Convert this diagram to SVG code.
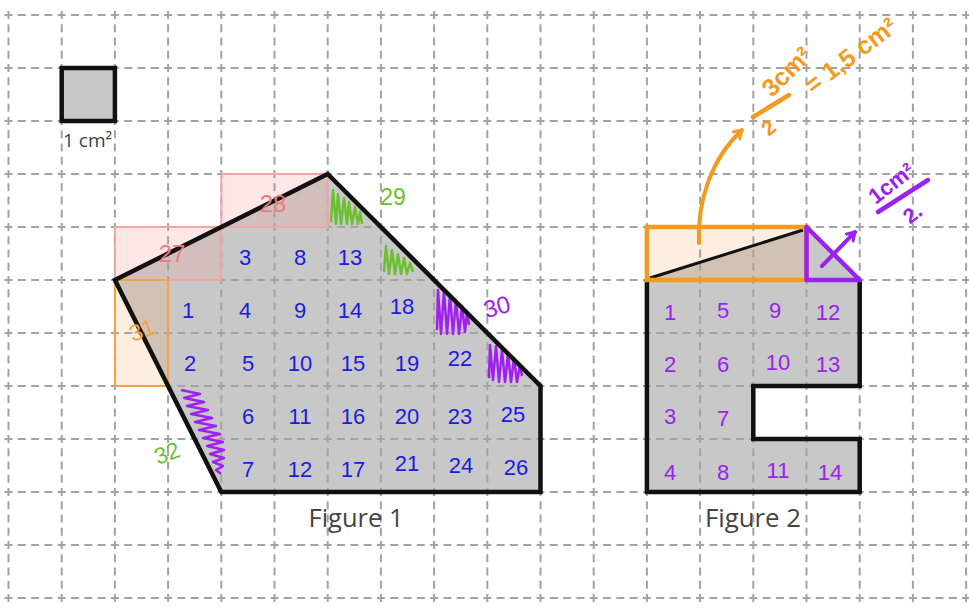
<svg xmlns="http://www.w3.org/2000/svg" width="969" height="608" viewBox="0 0 969 608">
<style>
.gh{stroke:#a3a3a3;stroke-width:2;stroke-dasharray:8 5.3;fill:none}
.gv{stroke:#a3a3a3;stroke-width:2;stroke-dasharray:8 5.25;fill:none}
.edge{stroke:#111;stroke-width:4.5;fill:none;stroke-linejoin:miter}
.gray{fill:#c8c8c8}
.b{font-family:"Liberation Sans",Arial,sans-serif;font-size:22px;fill:#1c1ce0;text-anchor:middle}
.p{font-family:"Liberation Sans",Arial,sans-serif;font-size:22px;fill:#9a22ee;text-anchor:middle}
.lab{font-family:"Open Sans","DejaVu Sans",sans-serif;fill:#444}
.scrG{stroke:#6cc030;stroke-width:2.5;fill:none;stroke-linejoin:round}
.scrP{stroke:#a020f0;stroke-width:2.5;fill:none;stroke-linejoin:round}
.ann{font-family:"Liberation Sans",Arial,sans-serif;font-weight:bold;text-anchor:middle}
</style>
<defs>
<marker id="arrO" markerWidth="14" markerHeight="14" refX="9" refY="6" orient="auto" markerUnits="userSpaceOnUse">
<path d="M1,1 L9,6 L1,11" fill="none" stroke="#f39a20" stroke-width="3" stroke-linecap="round" stroke-linejoin="round"/>
</marker>
<marker id="arrP" markerWidth="14" markerHeight="14" refX="9" refY="6" orient="auto" markerUnits="userSpaceOnUse">
<path d="M1,1 L9,6 L1,11" fill="none" stroke="#9a22ee" stroke-width="3" stroke-linecap="round" stroke-linejoin="round"/>
</marker>
</defs>
<rect width="969" height="608" fill="#fff"/>

<g id="fills">
<polygon class="gray" points="327.7,174 540.5,386 540.5,492 221.3,492 114.9,280"/>
<polygon class="gray" points="646.9,280 859.7,280 859.7,386 753.3,386 753.3,439 859.7,439 859.7,492 646.9,492"/>
<polygon class="gray" points="646.9,280 806.5,227 806.5,280"/>
<polygon class="gray" points="806.5,227 806.5,280 859.7,280"/>
<rect x="61.7" y="68" width="53.2" height="53" class="gray"/>
</g>

<g id="overlays">
<rect x="114.9" y="227" width="106.4" height="53" fill="rgb(245,160,160)" fill-opacity="0.25"/>
<rect x="221.3" y="174" width="106.4" height="53" fill="rgb(245,160,160)" fill-opacity="0.25"/>
<rect x="114.9" y="280" width="53.2" height="106" fill="rgb(245,170,95)" fill-opacity="0.2"/>
<rect x="646.9" y="227" width="159.6" height="53" fill="rgb(245,170,95)" fill-opacity="0.2"/>
</g>

<g id="grid">
<path class="gh" d="M4.5,15H969M4.5,68H969M4.5,121H969M4.5,174H969M4.5,227H969M4.5,280H969M4.5,333H969M4.5,386H969M4.5,439H969M4.5,492H969M4.5,545H969M4.5,598H969"/>
<path class="gv" d="M8.5,11V602M61.7,11V602M114.9,11V602M168.1,11V602M221.3,11V602M274.5,11V602M327.7,11V602M380.9,11V602M434.1,11V602M487.3,11V602M540.5,11V602M593.7,11V602M646.9,11V602M700.1,11V602M753.3,11V602M806.5,11V602M859.7,11V602M912.9,11V602M966.1,11V602"/>
</g>

<g id="outlines">
<rect x="114.9" y="227" width="106.4" height="53" fill="none" stroke="#f4a4a4" stroke-width="2"/>
<rect x="221.3" y="174" width="106.4" height="53" fill="none" stroke="#f4a4a4" stroke-width="2"/>
<rect x="114.9" y="280" width="53.2" height="106" fill="none" stroke="#f5a340" stroke-width="2"/>
</g>

<g id="scribbles">
<polyline class="scrG" points="331,222 333,190 336,224 338,194 341,224 344,198 347,224 349,202 352,224 355,207 358,224 360,212 362,224"/>
<polyline class="scrG" points="384,272 386,246 389,274 392,250 395,274 398,254 401,274 404,258 407,274 410,263 413,272"/>
<polyline class="scrP" points="437,330 438,290 441,334 444,291 447,334 450,295 453,334 456,300 459,334 462,306 465,332 467,312 469,325"/>
<polyline class="scrP" points="489,378 490,345 493,380 496,346 499,382 502,350 505,382 508,354 511,382 514,358 517,382 520,365 522,376"/>
<polyline class="scrP" points="181,390 200,394 184,398 204,402 187,406 208,410 191,414 212,418 195,422 216,426 199,430 220,434 203,438 223,442 207,446 224,450 210,454 224,458 213,462 223,466 216,470 221,474"/>
</g>

<g id="legend">
<rect x="61.7" y="68" width="53.2" height="53" fill="none" stroke="#111" stroke-width="4.5"/>
<text class="lab" x="63" y="147" font-size="19">1 cm²</text>
</g>

<g id="figure1">
<polygon class="edge" points="327.7,174 540.5,386 540.5,492 221.3,492 114.9,280"/>
<text class="lab" x="356" y="527" font-size="26" text-anchor="middle" textLength="95" lengthAdjust="spacingAndGlyphs">Figure 1</text>
<g id="nums1">
<text class="b" x="245" y="265">3</text><text class="b" x="300" y="265">8</text><text class="b" x="350" y="265">13</text>
<text class="b" x="188" y="318">1</text><text class="b" x="245" y="318">4</text><text class="b" x="300" y="318">9</text><text class="b" x="350" y="318">14</text><text class="b" x="402" y="314">18</text>
<text class="b" x="190" y="371">2</text><text class="b" x="248" y="371">5</text><text class="b" x="300" y="371">10</text><text class="b" x="353" y="371">15</text><text class="b" x="407" y="371">19</text><text class="b" x="460" y="366">22</text>
<text class="b" x="248" y="424">6</text><text class="b" x="300" y="424">11</text><text class="b" x="353" y="424">16</text><text class="b" x="407" y="424">20</text><text class="b" x="460" y="424">23</text><text class="b" x="513" y="422">25</text>
<text class="b" x="248" y="477">7</text><text class="b" x="300" y="477">12</text><text class="b" x="353" y="477">17</text><text class="b" x="407" y="471">21</text><text class="b" x="461" y="473">24</text><text class="b" x="516" y="475">26</text>
</g>
<text class="b" x="172" y="262" style="fill:#f07a7a;font-size:24px">27</text>
<text class="b" x="273" y="212" style="fill:#f07a7a;font-size:24px">28</text>
<text class="b" x="393" y="205" style="fill:#6cc030;font-size:23px">29</text>
<text class="b" x="497" y="315" style="fill:#a020f0;font-size:24px" transform="rotate(-15 497 307)">30</text>
<text class="b" x="142" y="338" style="fill:#f5a340;font-size:23px" transform="rotate(-20 142 330)">31</text>
<text class="b" x="167" y="461" style="fill:#6cc030;font-size:23px" transform="rotate(-20 167 453)">32</text>
</g>

<g id="figure2">
<polyline class="edge" points="859.7,280 859.7,386 753.3,386 753.3,439 859.7,439 859.7,492 646.9,492 646.9,280"/>
<line x1="650" y1="278" x2="803" y2="230" stroke="#111" stroke-width="3"/>
<rect x="646.9" y="227" width="159.6" height="53" fill="none" stroke="#f39a20" stroke-width="4.5"/>
<polygon points="806.5,227 806.5,280 859.7,280" fill="none" stroke="#9a22ee" stroke-width="4.5" stroke-linejoin="round"/>
<text class="lab" x="753" y="527" font-size="26" text-anchor="middle" textLength="96" lengthAdjust="spacingAndGlyphs">Figure 2</text>
<g id="nums2">
<text class="p" x="670" y="320">1</text><text class="p" x="723" y="318">5</text><text class="p" x="775" y="318">9</text><text class="p" x="828" y="320">12</text>
<text class="p" x="670" y="372">2</text><text class="p" x="723" y="372">6</text><text class="p" x="778" y="370">10</text><text class="p" x="828" y="372">13</text>
<text class="p" x="670" y="424">3</text><text class="p" x="723" y="426">7</text>
<text class="p" x="670" y="480">4</text><text class="p" x="723" y="480">8</text><text class="p" x="778" y="478">11</text><text class="p" x="830" y="480">14</text>
</g>
</g>

<g id="connectors">
<path d="M699,243 C697,200 712,158 742,130" fill="none" stroke="#f39a20" stroke-width="4" stroke-linecap="round" marker-end="url(#arrO)"/>
<line x1="822" y1="266" x2="855" y2="232" stroke="#9a22ee" stroke-width="4" stroke-linecap="round" marker-end="url(#arrP)"/>
</g>

<g id="annot-orange">
<text class="ann" x="787" y="80" font-size="25" fill="#f39a20" transform="rotate(-45 787 72)">3cm²</text>
<line x1="753" y1="117" x2="789" y2="95" stroke="#f39a20" stroke-width="4.5" stroke-linecap="round"/>
<text class="ann" x="768" y="135" font-size="21" fill="#f39a20" transform="rotate(-40 768 127)">2</text>
<text class="ann" x="851" y="64" font-size="25" fill="#f39a20" transform="rotate(-37 851 56)">= 1,5 cm²</text>
</g>
<g id="annot-purple">
<text class="ann" x="891" y="191" font-size="22" fill="#9a22ee" transform="rotate(-38 891 183)">1cm²</text>
<line x1="878" y1="212" x2="928" y2="180" stroke="#9a22ee" stroke-width="4.5" stroke-linecap="round"/>
<text class="ann" x="912" y="221" font-size="21" fill="#9a22ee" transform="rotate(-38 912 213)">2.</text>
</g>
</svg>
